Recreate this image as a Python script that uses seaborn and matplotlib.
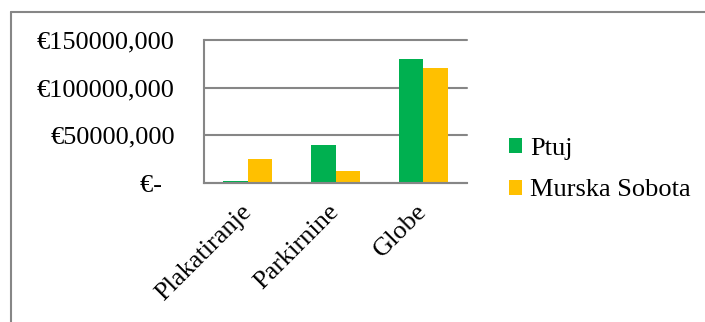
import matplotlib
matplotlib.use("Agg")
import matplotlib.pyplot as plt
import seaborn as sns
import pandas as pd
from matplotlib.lines import Line2D

categories = ["Plakatiranje", "Parkirnine", "Globe"]
ptuj = [2400, 39500, 129600]
murska_sobota = [24800, 12600, 120900]
series_names = ["Ptuj", "Murska Sobota"]
ytick_values = [0, 50000, 100000, 150000]
ytick_labels = ["€-  ", "€50000,000", "€100000,000", "€150000,000"]

df = pd.DataFrame({
    "Kategorija": categories * 2,
    "Vrednost": ptuj + murska_sobota,
    "Mesto": [series_names[0]] * 3 + [series_names[1]] * 3,
})

sns.set_theme(style="white")
plt.rcParams["font.family"] = ["Liberation Serif", "DejaVu Serif"]
plt.rcParams["font.size"] = 19
plt.rcParams["text.color"] = "black"
plt.rcParams["xtick.labelcolor"] = "black"
plt.rcParams["ytick.labelcolor"] = "black"

GRAY = "#868686"
fig = plt.figure(figsize=(7.05, 3.22), dpi=100)
ax = fig.add_axes([204 / 705, 1 - 183 / 322, (467 - 204) / 705, (183 - 40) / 322])

sns.barplot(data=df, x="Kategorija", y="Vrednost", hue="Mesto",
            palette=["#00B050", "#FFC000"], width=0.5625,
            order=categories, hue_order=series_names,
            ax=ax, legend=True, saturation=1, edgecolor="none", linewidth=0)

ax.set_xlim(-0.5, 2.5)
ax.set_ylim(0, 150000)
ax.set_yticks(ytick_values)
ax.set_yticklabels(ytick_labels, fontsize=19, color="black")
ax.set_xlabel("")
ax.set_ylabel("")

ax.grid(axis="y", color=GRAY, linewidth=1.5)
ax.grid(axis="x", visible=False)
for gl in ax.get_ygridlines():
    gl.set_clip_on(False)
ax.set_axisbelow(True)

for s in ["top", "right"]:
    ax.spines[s].set_visible(False)
for s in ["left", "bottom"]:
    ax.spines[s].set_color(GRAY)
    ax.spines[s].set_linewidth(1.5)

ax.tick_params(axis="y", which="major", direction="out", length=5, width=1.1,
               color=GRAY, pad=16, labelsize=19)
ax.set_xticks([0, 1, 2])
ax.set_xticks([-0.5, 0.5, 1.5, 2.5], minor=True)
ax.tick_params(axis="x", which="major", length=0, pad=18)
ax.tick_params(axis="x", which="minor", direction="out", length=6, width=1.1, color=GRAY)
ax.set_xticklabels(categories, rotation=45, ha="right", va="center",
                   rotation_mode="anchor", fontsize=19, color="black")

leg = ax.legend(loc="center left", bbox_to_anchor=(509 / 705, 1 - 169.5 / 322),
                bbox_transform=fig.transFigure, frameon=False, fontsize=19,
                handlelength=0.5, handleheight=0.5, handletextpad=0.3,
                labelspacing=0.75, borderpad=0, borderaxespad=0, title=None)
for t in leg.get_texts():
    t.set_color("black")

fig.add_artist(Line2D([10.5 / 705, 10.5 / 705], [0, 1 - 11.7 / 322],
                      transform=fig.transFigure, color=GRAY, linewidth=1.5))
fig.add_artist(Line2D([10.5 / 705, 1], [1 - 11.7 / 322, 1 - 11.7 / 322],
                      transform=fig.transFigure, color=GRAY, linewidth=1.5))

fig.savefig("out.png", dpi=100, facecolor="white")
